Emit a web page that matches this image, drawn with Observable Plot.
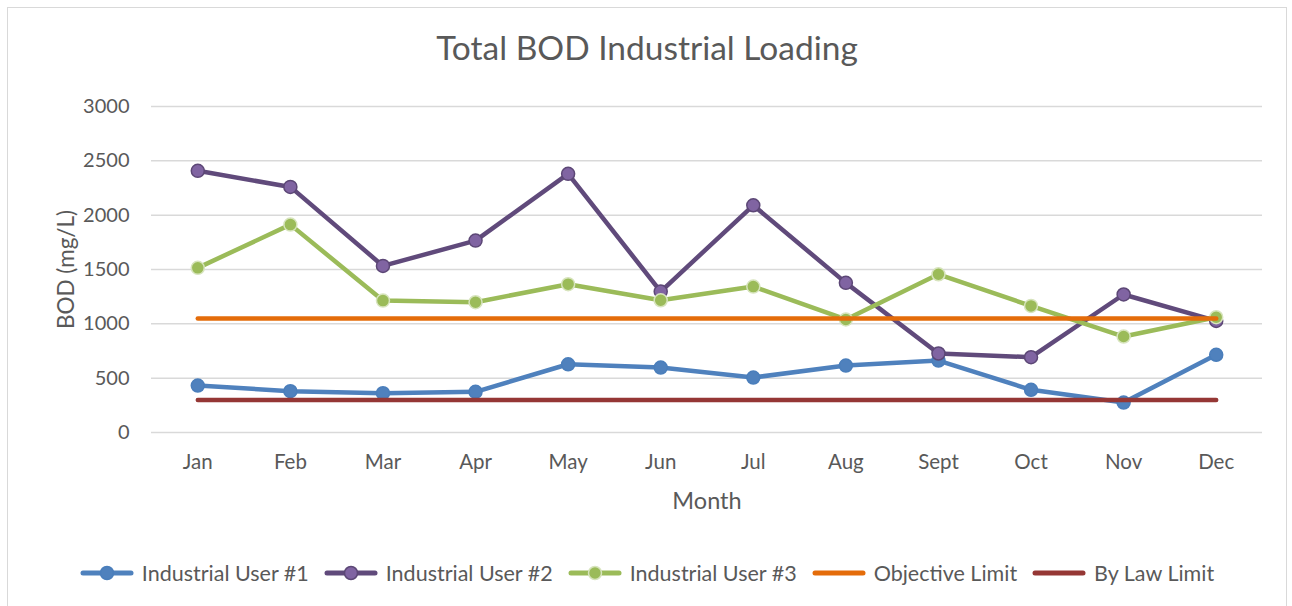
<!DOCTYPE html>
<html>
<head>
<meta charset="utf-8">
<script src="https://cdn.jsdelivr.net/npm/d3@7"></script>
<script src="https://cdn.jsdelivr.net/npm/@observablehq/plot@0.6"></script>
<style>
  html, body { margin: 0; padding: 0; background: #fff; }
  #wrap { position: relative; width: 1292px; height: 606px; overflow: hidden; font-family: Lato, "Open Sans", sans-serif; color: #595959; }
  #frame { position: absolute; left: 7px; top: 7px; width: 1280px; height: 640px; border: 1px solid #d9d9d9; box-sizing: border-box; }
  #title { position: absolute; left: 7px; width: 1280px; top: 27px; text-align: center; font-size: 33.5px; line-height: 40px; color: #595959; }
  #chart { position: absolute; left: 0; top: 0; }
  #legend { position: absolute; left: 7px; width: 1280px; top: 559px; display: flex; justify-content: center; align-items: center; gap: 15px; font-size: 21.5px; line-height: 28px; color: #595959; }
  .item { display: flex; align-items: center; gap: 8px; }
</style>
</head>
<body>
<div id="wrap">
  <div id="frame"></div>
  <div id="chart"></div>
  <div id="title">Total BOD Industrial Loading</div>
  <div id="legend"></div>
</div>
<script>
const months = ["Jan","Feb","Mar","Apr","May","Jun","Jul","Aug","Sept","Oct","Nov","Dec"];
const user1 = [432, 380, 362, 374, 628, 598, 506, 616, 662, 393, 276, 715];
const user2 = [2408, 2260, 1533, 1766, 2380, 1297, 2091, 1377, 727, 693, 1270, 1027];
const user3 = [1515, 1913, 1214, 1199, 1365, 1217, 1343, 1040, 1456, 1165, 883, 1061];
const objectiveLimit = [1050, 1050, 1050, 1050, 1050, 1050, 1050, 1050, 1050, 1050, 1050, 1050];
const byLawLimit = [300, 300, 300, 300, 300, 300, 300, 300, 300, 300, 300, 300];
const yTicks = [0, 500, 1000, 1500, 2000, 2500, 3000];
const seriesNames = ["Industrial User #1", "Industrial User #2", "Industrial User #3", "Objective Limit", "By Law Limit"];

const styles = [
  {line: "#4F81BD", fill: "#4F81BD", stroke: "#4A7EBB", marker: true},
  {line: "#604A7B", fill: "#8064A2", stroke: "#5C4776", marker: true},
  {line: "#9BBB59", fill: "#9BBB59", stroke: "#D7E4BD", marker: true},
  {line: "#E46C0A", marker: false},
  {line: "#953735", marker: false}
];
const seriesValues = [user1, user2, user3, objectiveLimit, byLawLimit];
const rows = seriesValues.map(vals => months.map((m, i) => ({month: m, value: vals[i]})));

const marks = [
  Plot.ruleY(yTicks, {stroke: "#d9d9d9", strokeWidth: 1.5}),
  Plot.axisY({ticks: yTicks, tickSize: 0, tickPadding: 22, fontSize: 20, fill: "#595959", label: null, tickFormat: d => String(d)}),
  Plot.axisX({tickSize: 0, tickPadding: 22, fontSize: 20.5, fill: "#595959", label: null}),
  Plot.text(["BOD (mg/L)"], {frameAnchor: "left", rotate: -90, dx: -85, fontSize: 22.5, fill: "#595959", textAnchor: "middle"}),
  Plot.text(["Month"], {frameAnchor: "bottom", dy: 76, fontSize: 23.5, fill: "#595959", textAnchor: "middle"})
];
rows.forEach((data, k) => {
  const s = styles[k];
  marks.push(Plot.line(data, {x: "month", y: "value", stroke: s.line, strokeWidth: 4.5, strokeLinecap: "round", strokeLinejoin: "round"}));
  if (s.marker) marks.push(Plot.dot(data, {x: "month", y: "value", r: 6.5, fill: s.fill, stroke: s.stroke, strokeWidth: 1.5}));
});

const chart = Plot.plot({
  width: 1292,
  height: 530,
  marginLeft: 151,
  marginRight: 30,
  marginTop: 106,
  marginBottom: 98,
  style: {fontFamily: "Lato, 'Open Sans', sans-serif", fontSize: "20px", color: "#595959", background: "transparent", overflow: "visible"},
  x: {type: "point", domain: months, padding: 0.5, round: false},
  y: {domain: [0, 3000]},
  marks
});
document.getElementById("chart").appendChild(chart);

const legend = document.getElementById("legend");
seriesNames.forEach((name, k) => {
  const s = styles[k];
  const item = document.createElement("div");
  item.className = "item";
  const ns = "http://www.w3.org/2000/svg";
  const sw = document.createElementNS(ns, "svg");
  sw.setAttribute("width", 54); sw.setAttribute("height", 20);
  const ln = document.createElementNS(ns, "line");
  ln.setAttribute("x1", 3); ln.setAttribute("x2", 51); ln.setAttribute("y1", 10); ln.setAttribute("y2", 10);
  ln.setAttribute("stroke", s.line); ln.setAttribute("stroke-width", 5); ln.setAttribute("stroke-linecap", "round");
  sw.appendChild(ln);
  if (s.marker) {
    const c = document.createElementNS(ns, "circle");
    c.setAttribute("cx", 27); c.setAttribute("cy", 10); c.setAttribute("r", 6.5);
    c.setAttribute("fill", s.fill); c.setAttribute("stroke", s.stroke); c.setAttribute("stroke-width", 1.5);
    sw.appendChild(c);
  }
  item.appendChild(sw);
  const t = document.createElement("span");
  t.textContent = name;
  item.appendChild(t);
  legend.appendChild(item);
});
</script>
</body>
</html>
